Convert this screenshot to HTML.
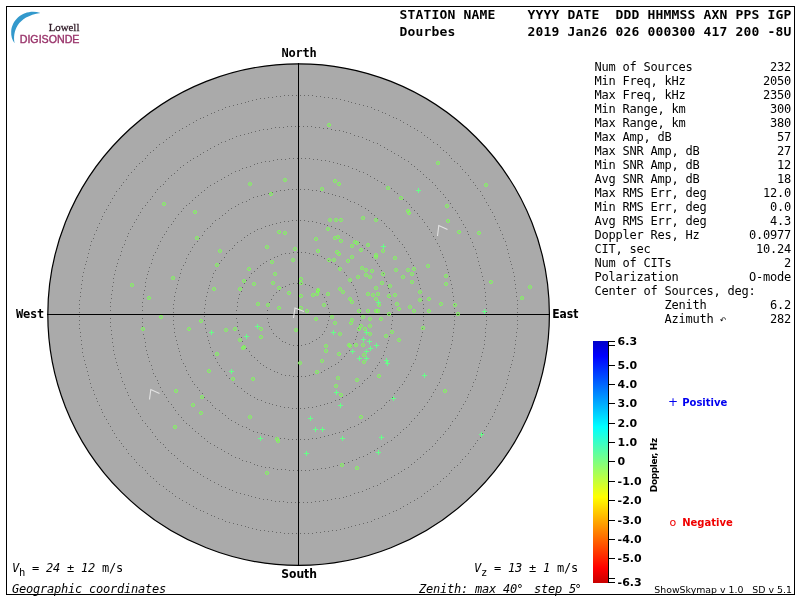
<!DOCTYPE html>
<html><head><meta charset="utf-8"><title>Skymap</title>
<style>
html,body{margin:0;padding:0;background:#fff;}
body{width:800px;height:600px;overflow:hidden;position:relative;}
svg{position:absolute;left:0;top:0;display:block;will-change:transform;}
text{white-space:pre;}
.mb{font-family:"DejaVu Sans Mono","Liberation Mono",monospace;font-weight:bold;}
.m{font-family:"DejaVu Sans Mono","Liberation Mono",monospace;}
.mi{font-family:"DejaVu Sans Mono","Liberation Mono",monospace;font-style:italic;}
.sb{font-family:"DejaVu Sans","Liberation Sans",sans-serif;font-weight:bold;}
.cb{font-family:"DejaVu Sans Condensed","DejaVu Sans","Liberation Sans",sans-serif;font-weight:bold;font-stretch:condensed;}
.s{font-family:"DejaVu Sans","Liberation Sans",sans-serif;}
</style></head><body>
<svg width="800" height="600" viewBox="0 0 800 600">
<defs>
<linearGradient id="cb" x1="0" y1="0" x2="0" y2="1">
<stop offset="0" stop-color="#0000c8"/>
<stop offset="0.062" stop-color="#0000ff"/>
<stop offset="0.355" stop-color="#00ffff"/>
<stop offset="0.645" stop-color="#ffff00"/>
<stop offset="0.938" stop-color="#ff0000"/>
<stop offset="1" stop-color="#c80000"/>
</linearGradient>
</defs>
<rect x="0" y="0" width="800" height="600" fill="#fff"/>
<rect x="6.5" y="6.5" width="788" height="588" fill="none" stroke="#000" stroke-width="1" shape-rendering="crispEdges"/>
<g id="logo">
<path d="M40.5 13 C26 8.5 12.2 18 11.2 31.5 C10.9 36 12.2 40.2 14.6 43.2 C12.6 32 16.5 16.5 40.5 13 Z" fill="#3399cc"/>
<text x="48.7" y="30.6" font-family="'Liberation Serif','DejaVu Serif',serif" font-size="11.4" fill="#35202c" stroke="#35202c" stroke-width="0.3" textLength="30.7" lengthAdjust="spacingAndGlyphs">Lowell</text>
<text x="19.7" y="43.1" font-family="'Liberation Sans','DejaVu Sans',sans-serif" font-size="10" fill="#99336a" stroke="#99336a" stroke-width="0.35" textLength="59.8" lengthAdjust="spacingAndGlyphs">DIGISONDE</text>
</g>
<circle cx="298.6" cy="314.6" r="250.8" fill="#aaaaaa" stroke="#000" stroke-width="1.2"/>
<path fill="#686868" shape-rendering="crispEdges" d="M329 316h1v1h-1zM328 320h1v1h-1zM327 324h1v1h-1zM326 327h1v1h-1zM324 331h1v1h-1zM322 334h1v1h-1zM319 337h1v1h-1zM316 339h1v1h-1zM312 341h1v1h-1zM309 343h1v1h-1zM305 344h1v1h-1zM301 345h1v1h-1zM297 345h1v1h-1zM293 345h1v1h-1zM289 344h1v1h-1zM285 342h1v1h-1zM282 341h1v1h-1zM279 338h1v1h-1zM276 336h1v1h-1zM273 333h1v1h-1zM271 329h1v1h-1zM269 326h1v1h-1zM268 322h1v1h-1zM267 318h1v1h-1zM267 314h1v1h-1zM267 310h1v1h-1zM268 306h1v1h-1zM269 302h1v1h-1zM271 299h1v1h-1zM273 295h1v1h-1zM276 292h1v1h-1zM279 290h1v1h-1zM282 287h1v1h-1zM285 286h1v1h-1zM289 284h1v1h-1zM293 283h1v1h-1zM297 283h1v1h-1zM301 283h1v1h-1zM305 284h1v1h-1zM309 285h1v1h-1zM312 287h1v1h-1zM316 289h1v1h-1zM319 291h1v1h-1zM322 294h1v1h-1zM324 297h1v1h-1zM326 301h1v1h-1zM327 304h1v1h-1zM328 308h1v1h-1zM329 312h1v1h-1z"/>
<path fill="#686868" shape-rendering="crispEdges" d="M360 316h1v1h-1zM360 320h1v1h-1zM359 324h1v1h-1zM358 328h1v1h-1zM357 332h1v1h-1zM356 336h1v1h-1zM355 339h1v1h-1zM353 343h1v1h-1zM351 346h1v1h-1zM349 350h1v1h-1zM346 353h1v1h-1zM344 356h1v1h-1zM341 359h1v1h-1zM338 362h1v1h-1zM335 364h1v1h-1zM331 366h1v1h-1zM328 368h1v1h-1zM324 370h1v1h-1zM321 372h1v1h-1zM317 373h1v1h-1zM313 374h1v1h-1zM309 375h1v1h-1zM305 376h1v1h-1zM301 376h1v1h-1zM297 376h1v1h-1zM293 376h1v1h-1zM289 375h1v1h-1zM285 375h1v1h-1zM281 374h1v1h-1zM277 372h1v1h-1zM274 371h1v1h-1zM270 369h1v1h-1zM266 367h1v1h-1zM263 365h1v1h-1zM260 363h1v1h-1zM257 360h1v1h-1zM254 357h1v1h-1zM251 355h1v1h-1zM249 351h1v1h-1zM246 348h1v1h-1zM244 345h1v1h-1zM242 341h1v1h-1zM241 337h1v1h-1zM239 334h1v1h-1zM238 330h1v1h-1zM237 326h1v1h-1zM237 322h1v1h-1zM236 318h1v1h-1zM236 314h1v1h-1zM236 310h1v1h-1zM237 306h1v1h-1zM237 302h1v1h-1zM238 298h1v1h-1zM239 294h1v1h-1zM241 291h1v1h-1zM242 287h1v1h-1zM244 283h1v1h-1zM246 280h1v1h-1zM249 277h1v1h-1zM251 273h1v1h-1zM254 271h1v1h-1zM257 268h1v1h-1zM260 265h1v1h-1zM263 263h1v1h-1zM266 261h1v1h-1zM270 259h1v1h-1zM274 257h1v1h-1zM277 256h1v1h-1zM281 254h1v1h-1zM285 253h1v1h-1zM289 253h1v1h-1zM293 252h1v1h-1zM297 252h1v1h-1zM301 252h1v1h-1zM305 252h1v1h-1zM309 253h1v1h-1zM313 254h1v1h-1zM317 255h1v1h-1zM321 256h1v1h-1zM324 258h1v1h-1zM328 260h1v1h-1zM331 262h1v1h-1zM335 264h1v1h-1zM338 266h1v1h-1zM341 269h1v1h-1zM344 272h1v1h-1zM346 275h1v1h-1zM349 278h1v1h-1zM351 282h1v1h-1zM353 285h1v1h-1zM355 289h1v1h-1zM356 292h1v1h-1zM357 296h1v1h-1zM358 300h1v1h-1zM359 304h1v1h-1zM360 308h1v1h-1zM360 312h1v1h-1z"/>
<path fill="#686868" shape-rendering="crispEdges" d="M392 316h1v1h-1zM392 320h1v1h-1zM391 324h1v1h-1zM391 328h1v1h-1zM390 332h1v1h-1zM389 336h1v1h-1zM388 340h1v1h-1zM387 343h1v1h-1zM386 347h1v1h-1zM384 351h1v1h-1zM383 355h1v1h-1zM381 358h1v1h-1zM379 362h1v1h-1zM377 365h1v1h-1zM375 368h1v1h-1zM372 371h1v1h-1zM370 375h1v1h-1zM367 378h1v1h-1zM364 380h1v1h-1zM362 383h1v1h-1zM359 386h1v1h-1zM355 388h1v1h-1zM352 391h1v1h-1zM349 393h1v1h-1zM346 395h1v1h-1zM342 397h1v1h-1zM339 399h1v1h-1zM335 400h1v1h-1zM331 402h1v1h-1zM327 403h1v1h-1zM324 404h1v1h-1zM320 405h1v1h-1zM316 406h1v1h-1zM312 407h1v1h-1zM308 407h1v1h-1zM304 408h1v1h-1zM300 408h1v1h-1zM296 408h1v1h-1zM292 408h1v1h-1zM288 407h1v1h-1zM284 407h1v1h-1zM280 406h1v1h-1zM276 405h1v1h-1zM272 404h1v1h-1zM269 403h1v1h-1zM265 402h1v1h-1zM261 400h1v1h-1zM257 399h1v1h-1zM254 397h1v1h-1zM250 395h1v1h-1zM247 393h1v1h-1zM244 391h1v1h-1zM241 388h1v1h-1zM237 386h1v1h-1zM234 383h1v1h-1zM232 380h1v1h-1zM229 378h1v1h-1zM226 375h1v1h-1zM224 371h1v1h-1zM221 368h1v1h-1zM219 365h1v1h-1zM217 362h1v1h-1zM215 358h1v1h-1zM213 355h1v1h-1zM212 351h1v1h-1zM210 347h1v1h-1zM209 343h1v1h-1zM208 340h1v1h-1zM207 336h1v1h-1zM206 332h1v1h-1zM205 328h1v1h-1zM205 324h1v1h-1zM204 320h1v1h-1zM204 316h1v1h-1zM204 312h1v1h-1zM204 308h1v1h-1zM205 304h1v1h-1zM205 300h1v1h-1zM206 296h1v1h-1zM207 292h1v1h-1zM208 288h1v1h-1zM209 285h1v1h-1zM210 281h1v1h-1zM212 277h1v1h-1zM213 273h1v1h-1zM215 270h1v1h-1zM217 266h1v1h-1zM219 263h1v1h-1zM221 260h1v1h-1zM224 257h1v1h-1zM226 253h1v1h-1zM229 250h1v1h-1zM232 248h1v1h-1zM234 245h1v1h-1zM237 242h1v1h-1zM241 240h1v1h-1zM244 237h1v1h-1zM247 235h1v1h-1zM250 233h1v1h-1zM254 231h1v1h-1zM257 229h1v1h-1zM261 228h1v1h-1zM265 226h1v1h-1zM269 225h1v1h-1zM272 224h1v1h-1zM276 223h1v1h-1zM280 222h1v1h-1zM284 221h1v1h-1zM288 221h1v1h-1zM292 220h1v1h-1zM296 220h1v1h-1zM300 220h1v1h-1zM304 220h1v1h-1zM308 221h1v1h-1zM312 221h1v1h-1zM316 222h1v1h-1zM320 223h1v1h-1zM324 224h1v1h-1zM327 225h1v1h-1zM331 226h1v1h-1zM335 228h1v1h-1zM339 229h1v1h-1zM342 231h1v1h-1zM346 233h1v1h-1zM349 235h1v1h-1zM352 237h1v1h-1zM355 240h1v1h-1zM359 242h1v1h-1zM362 245h1v1h-1zM364 248h1v1h-1zM367 250h1v1h-1zM370 253h1v1h-1zM372 257h1v1h-1zM375 260h1v1h-1zM377 263h1v1h-1zM379 266h1v1h-1zM381 270h1v1h-1zM383 273h1v1h-1zM384 277h1v1h-1zM386 281h1v1h-1zM387 285h1v1h-1zM388 288h1v1h-1zM389 292h1v1h-1zM390 296h1v1h-1zM391 300h1v1h-1zM391 304h1v1h-1zM392 308h1v1h-1zM392 312h1v1h-1z"/>
<path fill="#686868" shape-rendering="crispEdges" d="M423 316h1v1h-1zM423 320h1v1h-1zM423 324h1v1h-1zM422 328h1v1h-1zM422 332h1v1h-1zM421 336h1v1h-1zM420 340h1v1h-1zM419 344h1v1h-1zM418 348h1v1h-1zM417 351h1v1h-1zM416 355h1v1h-1zM415 359h1v1h-1zM413 363h1v1h-1zM411 366h1v1h-1zM410 370h1v1h-1zM408 374h1v1h-1zM406 377h1v1h-1zM404 381h1v1h-1zM402 384h1v1h-1zM399 387h1v1h-1zM397 390h1v1h-1zM394 393h1v1h-1zM392 397h1v1h-1zM389 400h1v1h-1zM386 402h1v1h-1zM384 405h1v1h-1zM381 408h1v1h-1zM377 410h1v1h-1zM374 413h1v1h-1zM371 415h1v1h-1zM368 418h1v1h-1zM365 420h1v1h-1zM361 422h1v1h-1zM358 424h1v1h-1zM354 426h1v1h-1zM350 427h1v1h-1zM347 429h1v1h-1zM343 431h1v1h-1zM339 432h1v1h-1zM335 433h1v1h-1zM332 434h1v1h-1zM328 435h1v1h-1zM324 436h1v1h-1zM320 437h1v1h-1zM316 438h1v1h-1zM312 438h1v1h-1zM308 439h1v1h-1zM304 439h1v1h-1zM300 439h1v1h-1zM296 439h1v1h-1zM292 439h1v1h-1zM288 439h1v1h-1zM284 438h1v1h-1zM280 438h1v1h-1zM276 437h1v1h-1zM272 436h1v1h-1zM268 435h1v1h-1zM264 434h1v1h-1zM261 433h1v1h-1zM257 432h1v1h-1zM253 431h1v1h-1zM249 429h1v1h-1zM246 427h1v1h-1zM242 426h1v1h-1zM238 424h1v1h-1zM235 422h1v1h-1zM231 420h1v1h-1zM228 418h1v1h-1zM225 415h1v1h-1zM222 413h1v1h-1zM219 410h1v1h-1zM215 408h1v1h-1zM212 405h1v1h-1zM210 402h1v1h-1zM207 400h1v1h-1zM204 397h1v1h-1zM202 393h1v1h-1zM199 390h1v1h-1zM197 387h1v1h-1zM194 384h1v1h-1zM192 381h1v1h-1zM190 377h1v1h-1zM188 374h1v1h-1zM186 370h1v1h-1zM185 366h1v1h-1zM183 363h1v1h-1zM181 359h1v1h-1zM180 355h1v1h-1zM179 351h1v1h-1zM178 348h1v1h-1zM177 344h1v1h-1zM176 340h1v1h-1zM175 336h1v1h-1zM174 332h1v1h-1zM174 328h1v1h-1zM173 324h1v1h-1zM173 320h1v1h-1zM173 316h1v1h-1zM173 312h1v1h-1zM173 308h1v1h-1zM173 304h1v1h-1zM174 300h1v1h-1zM174 296h1v1h-1zM175 292h1v1h-1zM176 288h1v1h-1zM177 284h1v1h-1zM178 280h1v1h-1zM179 277h1v1h-1zM180 273h1v1h-1zM181 269h1v1h-1zM183 265h1v1h-1zM185 262h1v1h-1zM186 258h1v1h-1zM188 254h1v1h-1zM190 251h1v1h-1zM192 247h1v1h-1zM194 244h1v1h-1zM197 241h1v1h-1zM199 238h1v1h-1zM202 235h1v1h-1zM204 231h1v1h-1zM207 228h1v1h-1zM210 226h1v1h-1zM212 223h1v1h-1zM215 220h1v1h-1zM219 218h1v1h-1zM222 215h1v1h-1zM225 213h1v1h-1zM228 210h1v1h-1zM231 208h1v1h-1zM235 206h1v1h-1zM238 204h1v1h-1zM242 202h1v1h-1zM246 201h1v1h-1zM249 199h1v1h-1zM253 197h1v1h-1zM257 196h1v1h-1zM261 195h1v1h-1zM264 194h1v1h-1zM268 193h1v1h-1zM272 192h1v1h-1zM276 191h1v1h-1zM280 190h1v1h-1zM284 190h1v1h-1zM288 189h1v1h-1zM292 189h1v1h-1zM296 189h1v1h-1zM300 189h1v1h-1zM304 189h1v1h-1zM308 189h1v1h-1zM312 190h1v1h-1zM316 190h1v1h-1zM320 191h1v1h-1zM324 192h1v1h-1zM328 193h1v1h-1zM332 194h1v1h-1zM335 195h1v1h-1zM339 196h1v1h-1zM343 197h1v1h-1zM347 199h1v1h-1zM350 201h1v1h-1zM354 202h1v1h-1zM358 204h1v1h-1zM361 206h1v1h-1zM365 208h1v1h-1zM368 210h1v1h-1zM371 213h1v1h-1zM374 215h1v1h-1zM377 218h1v1h-1zM381 220h1v1h-1zM384 223h1v1h-1zM386 226h1v1h-1zM389 228h1v1h-1zM392 231h1v1h-1zM394 235h1v1h-1zM397 238h1v1h-1zM399 241h1v1h-1zM402 244h1v1h-1zM404 247h1v1h-1zM406 251h1v1h-1zM408 254h1v1h-1zM410 258h1v1h-1zM411 262h1v1h-1zM413 265h1v1h-1zM415 269h1v1h-1zM416 273h1v1h-1zM417 277h1v1h-1zM418 280h1v1h-1zM419 284h1v1h-1zM420 288h1v1h-1zM421 292h1v1h-1zM422 296h1v1h-1zM422 300h1v1h-1zM423 304h1v1h-1zM423 308h1v1h-1zM423 312h1v1h-1z"/>
<path fill="#686868" shape-rendering="crispEdges" d="M454 316h1v1h-1zM454 320h1v1h-1zM454 324h1v1h-1zM453 328h1v1h-1zM453 332h1v1h-1zM452 336h1v1h-1zM452 340h1v1h-1zM451 344h1v1h-1zM450 348h1v1h-1zM449 352h1v1h-1zM448 356h1v1h-1zM447 359h1v1h-1zM446 363h1v1h-1zM445 367h1v1h-1zM443 371h1v1h-1zM442 374h1v1h-1zM440 378h1v1h-1zM439 382h1v1h-1zM437 385h1v1h-1zM435 389h1v1h-1zM433 392h1v1h-1zM431 396h1v1h-1zM429 399h1v1h-1zM427 402h1v1h-1zM424 406h1v1h-1zM422 409h1v1h-1zM419 412h1v1h-1zM417 415h1v1h-1zM414 418h1v1h-1zM411 421h1v1h-1zM409 424h1v1h-1zM406 427h1v1h-1zM403 429h1v1h-1zM400 432h1v1h-1zM397 435h1v1h-1zM394 437h1v1h-1zM391 440h1v1h-1zM387 442h1v1h-1zM384 444h1v1h-1zM381 446h1v1h-1zM377 448h1v1h-1zM374 450h1v1h-1zM370 452h1v1h-1zM367 454h1v1h-1zM363 456h1v1h-1zM359 457h1v1h-1zM356 459h1v1h-1zM352 460h1v1h-1zM348 462h1v1h-1zM344 463h1v1h-1zM340 464h1v1h-1zM337 465h1v1h-1zM333 466h1v1h-1zM329 467h1v1h-1zM325 468h1v1h-1zM321 468h1v1h-1zM317 469h1v1h-1zM313 469h1v1h-1zM309 470h1v1h-1zM305 470h1v1h-1zM301 470h1v1h-1zM297 470h1v1h-1zM293 470h1v1h-1zM289 470h1v1h-1zM285 469h1v1h-1zM281 469h1v1h-1zM277 469h1v1h-1zM273 468h1v1h-1zM269 467h1v1h-1zM265 467h1v1h-1zM261 466h1v1h-1zM257 465h1v1h-1zM254 464h1v1h-1zM250 462h1v1h-1zM246 461h1v1h-1zM242 460h1v1h-1zM239 458h1v1h-1zM235 457h1v1h-1zM231 455h1v1h-1zM228 453h1v1h-1zM224 451h1v1h-1zM221 449h1v1h-1zM217 447h1v1h-1zM214 445h1v1h-1zM210 443h1v1h-1zM207 441h1v1h-1zM204 438h1v1h-1zM201 436h1v1h-1zM198 433h1v1h-1zM195 431h1v1h-1zM192 428h1v1h-1zM189 425h1v1h-1zM186 423h1v1h-1zM183 420h1v1h-1zM181 417h1v1h-1zM178 414h1v1h-1zM175 410h1v1h-1zM173 407h1v1h-1zM171 404h1v1h-1zM168 401h1v1h-1zM166 397h1v1h-1zM164 394h1v1h-1zM162 391h1v1h-1zM160 387h1v1h-1zM158 383h1v1h-1zM157 380h1v1h-1zM155 376h1v1h-1zM153 373h1v1h-1zM152 369h1v1h-1zM151 365h1v1h-1zM149 361h1v1h-1zM148 357h1v1h-1zM147 354h1v1h-1zM146 350h1v1h-1zM145 346h1v1h-1zM145 342h1v1h-1zM144 338h1v1h-1zM143 334h1v1h-1zM143 330h1v1h-1zM142 326h1v1h-1zM142 322h1v1h-1zM142 318h1v1h-1zM142 314h1v1h-1zM142 310h1v1h-1zM142 306h1v1h-1zM142 302h1v1h-1zM143 298h1v1h-1zM143 294h1v1h-1zM144 290h1v1h-1zM145 286h1v1h-1zM145 282h1v1h-1zM146 278h1v1h-1zM147 274h1v1h-1zM148 271h1v1h-1zM149 267h1v1h-1zM151 263h1v1h-1zM152 259h1v1h-1zM153 255h1v1h-1zM155 252h1v1h-1zM157 248h1v1h-1zM158 245h1v1h-1zM160 241h1v1h-1zM162 237h1v1h-1zM164 234h1v1h-1zM166 231h1v1h-1zM168 227h1v1h-1zM171 224h1v1h-1zM173 221h1v1h-1zM175 218h1v1h-1zM178 214h1v1h-1zM181 211h1v1h-1zM183 208h1v1h-1zM186 205h1v1h-1zM189 203h1v1h-1zM192 200h1v1h-1zM195 197h1v1h-1zM198 195h1v1h-1zM201 192h1v1h-1zM204 190h1v1h-1zM207 187h1v1h-1zM210 185h1v1h-1zM214 183h1v1h-1zM217 181h1v1h-1zM221 179h1v1h-1zM224 177h1v1h-1zM228 175h1v1h-1zM231 173h1v1h-1zM235 171h1v1h-1zM239 170h1v1h-1zM242 168h1v1h-1zM246 167h1v1h-1zM250 166h1v1h-1zM254 164h1v1h-1zM257 163h1v1h-1zM261 162h1v1h-1zM265 161h1v1h-1zM269 161h1v1h-1zM273 160h1v1h-1zM277 159h1v1h-1zM281 159h1v1h-1zM285 159h1v1h-1zM289 158h1v1h-1zM293 158h1v1h-1zM297 158h1v1h-1zM301 158h1v1h-1zM305 158h1v1h-1zM309 158h1v1h-1zM313 159h1v1h-1zM317 159h1v1h-1zM321 160h1v1h-1zM325 160h1v1h-1zM329 161h1v1h-1zM333 162h1v1h-1zM337 163h1v1h-1zM340 164h1v1h-1zM344 165h1v1h-1zM348 166h1v1h-1zM352 168h1v1h-1zM356 169h1v1h-1zM359 171h1v1h-1zM363 172h1v1h-1zM367 174h1v1h-1zM370 176h1v1h-1zM374 178h1v1h-1zM377 180h1v1h-1zM381 182h1v1h-1zM384 184h1v1h-1zM387 186h1v1h-1zM391 188h1v1h-1zM394 191h1v1h-1zM397 193h1v1h-1zM400 196h1v1h-1zM403 199h1v1h-1zM406 201h1v1h-1zM409 204h1v1h-1zM411 207h1v1h-1zM414 210h1v1h-1zM417 213h1v1h-1zM419 216h1v1h-1zM422 219h1v1h-1zM424 222h1v1h-1zM427 226h1v1h-1zM429 229h1v1h-1zM431 232h1v1h-1zM433 236h1v1h-1zM435 239h1v1h-1zM437 243h1v1h-1zM439 246h1v1h-1zM440 250h1v1h-1zM442 254h1v1h-1zM443 257h1v1h-1zM445 261h1v1h-1zM446 265h1v1h-1zM447 269h1v1h-1zM448 272h1v1h-1zM449 276h1v1h-1zM450 280h1v1h-1zM451 284h1v1h-1zM452 288h1v1h-1zM452 292h1v1h-1zM453 296h1v1h-1zM453 300h1v1h-1zM454 304h1v1h-1zM454 308h1v1h-1zM454 312h1v1h-1z"/>
<path fill="#686868" shape-rendering="crispEdges" d="M486 316h1v1h-1zM486 320h1v1h-1zM486 324h1v1h-1zM485 328h1v1h-1zM485 332h1v1h-1zM485 336h1v1h-1zM484 340h1v1h-1zM484 344h1v1h-1zM483 348h1v1h-1zM482 352h1v1h-1zM481 356h1v1h-1zM480 360h1v1h-1zM479 363h1v1h-1zM478 367h1v1h-1zM477 371h1v1h-1zM476 375h1v1h-1zM475 379h1v1h-1zM473 382h1v1h-1zM472 386h1v1h-1zM470 390h1v1h-1zM468 394h1v1h-1zM467 397h1v1h-1zM465 401h1v1h-1zM463 404h1v1h-1zM461 408h1v1h-1zM459 411h1v1h-1zM457 415h1v1h-1zM455 418h1v1h-1zM452 421h1v1h-1zM450 425h1v1h-1zM448 428h1v1h-1zM445 431h1v1h-1zM443 434h1v1h-1zM440 437h1v1h-1zM437 440h1v1h-1zM435 443h1v1h-1zM432 446h1v1h-1zM429 449h1v1h-1zM426 451h1v1h-1zM423 454h1v1h-1zM420 457h1v1h-1zM417 459h1v1h-1zM414 462h1v1h-1zM411 464h1v1h-1zM408 467h1v1h-1zM404 469h1v1h-1zM401 471h1v1h-1zM398 473h1v1h-1zM394 475h1v1h-1zM391 477h1v1h-1zM387 479h1v1h-1zM384 481h1v1h-1zM380 483h1v1h-1zM377 485h1v1h-1zM373 486h1v1h-1zM369 488h1v1h-1zM366 489h1v1h-1zM362 491h1v1h-1zM358 492h1v1h-1zM354 493h1v1h-1zM350 495h1v1h-1zM346 496h1v1h-1zM343 497h1v1h-1zM339 498h1v1h-1zM335 498h1v1h-1zM331 499h1v1h-1zM327 500h1v1h-1zM323 500h1v1h-1zM319 501h1v1h-1zM315 501h1v1h-1zM311 502h1v1h-1zM307 502h1v1h-1zM303 502h1v1h-1zM299 502h1v1h-1zM295 502h1v1h-1zM291 502h1v1h-1zM287 502h1v1h-1zM283 501h1v1h-1zM279 501h1v1h-1zM275 501h1v1h-1zM271 500h1v1h-1zM267 499h1v1h-1zM263 499h1v1h-1zM259 498h1v1h-1zM255 497h1v1h-1zM251 496h1v1h-1zM248 495h1v1h-1zM244 494h1v1h-1zM240 493h1v1h-1zM236 492h1v1h-1zM232 490h1v1h-1zM229 489h1v1h-1zM225 487h1v1h-1zM221 486h1v1h-1zM218 484h1v1h-1zM214 482h1v1h-1zM210 480h1v1h-1zM207 478h1v1h-1zM203 476h1v1h-1zM200 474h1v1h-1zM197 472h1v1h-1zM193 470h1v1h-1zM190 468h1v1h-1zM187 466h1v1h-1zM183 463h1v1h-1zM180 461h1v1h-1zM177 458h1v1h-1zM174 455h1v1h-1zM171 453h1v1h-1zM168 450h1v1h-1zM165 447h1v1h-1zM163 444h1v1h-1zM160 442h1v1h-1zM157 439h1v1h-1zM155 436h1v1h-1zM152 432h1v1h-1zM150 429h1v1h-1zM147 426h1v1h-1zM145 423h1v1h-1zM142 420h1v1h-1zM140 416h1v1h-1zM138 413h1v1h-1zM136 409h1v1h-1zM134 406h1v1h-1zM132 402h1v1h-1zM130 399h1v1h-1zM128 395h1v1h-1zM127 392h1v1h-1zM125 388h1v1h-1zM124 384h1v1h-1zM122 381h1v1h-1zM121 377h1v1h-1zM120 373h1v1h-1zM118 369h1v1h-1zM117 365h1v1h-1zM116 362h1v1h-1zM115 358h1v1h-1zM114 354h1v1h-1zM113 350h1v1h-1zM113 346h1v1h-1zM112 342h1v1h-1zM112 338h1v1h-1zM111 334h1v1h-1zM111 330h1v1h-1zM110 326h1v1h-1zM110 322h1v1h-1zM110 318h1v1h-1zM110 314h1v1h-1zM110 310h1v1h-1zM110 306h1v1h-1zM110 302h1v1h-1zM111 298h1v1h-1zM111 294h1v1h-1zM112 290h1v1h-1zM112 286h1v1h-1zM113 282h1v1h-1zM113 278h1v1h-1zM114 274h1v1h-1zM115 270h1v1h-1zM116 266h1v1h-1zM117 263h1v1h-1zM118 259h1v1h-1zM120 255h1v1h-1zM121 251h1v1h-1zM122 247h1v1h-1zM124 244h1v1h-1zM125 240h1v1h-1zM127 236h1v1h-1zM128 233h1v1h-1zM130 229h1v1h-1zM132 226h1v1h-1zM134 222h1v1h-1zM136 219h1v1h-1zM138 215h1v1h-1zM140 212h1v1h-1zM142 208h1v1h-1zM145 205h1v1h-1zM147 202h1v1h-1zM150 199h1v1h-1zM152 196h1v1h-1zM155 192h1v1h-1zM157 189h1v1h-1zM160 186h1v1h-1zM163 184h1v1h-1zM165 181h1v1h-1zM168 178h1v1h-1zM171 175h1v1h-1zM174 173h1v1h-1zM177 170h1v1h-1zM180 167h1v1h-1zM183 165h1v1h-1zM187 162h1v1h-1zM190 160h1v1h-1zM193 158h1v1h-1zM197 156h1v1h-1zM200 154h1v1h-1zM203 152h1v1h-1zM207 150h1v1h-1zM210 148h1v1h-1zM214 146h1v1h-1zM218 144h1v1h-1zM221 142h1v1h-1zM225 141h1v1h-1zM229 139h1v1h-1zM232 138h1v1h-1zM236 136h1v1h-1zM240 135h1v1h-1zM244 134h1v1h-1zM248 133h1v1h-1zM251 132h1v1h-1zM255 131h1v1h-1zM259 130h1v1h-1zM263 129h1v1h-1zM267 129h1v1h-1zM271 128h1v1h-1zM275 127h1v1h-1zM279 127h1v1h-1zM283 127h1v1h-1zM287 126h1v1h-1zM291 126h1v1h-1zM295 126h1v1h-1zM299 126h1v1h-1zM303 126h1v1h-1zM307 126h1v1h-1zM311 126h1v1h-1zM315 127h1v1h-1zM319 127h1v1h-1zM323 128h1v1h-1zM327 128h1v1h-1zM331 129h1v1h-1zM335 130h1v1h-1zM339 130h1v1h-1zM343 131h1v1h-1zM346 132h1v1h-1zM350 133h1v1h-1zM354 135h1v1h-1zM358 136h1v1h-1zM362 137h1v1h-1zM366 139h1v1h-1zM369 140h1v1h-1zM373 142h1v1h-1zM377 143h1v1h-1zM380 145h1v1h-1zM384 147h1v1h-1zM387 149h1v1h-1zM391 151h1v1h-1zM394 153h1v1h-1zM398 155h1v1h-1zM401 157h1v1h-1zM404 159h1v1h-1zM408 161h1v1h-1zM411 164h1v1h-1zM414 166h1v1h-1zM417 169h1v1h-1zM420 171h1v1h-1zM423 174h1v1h-1zM426 177h1v1h-1zM429 179h1v1h-1zM432 182h1v1h-1zM435 185h1v1h-1zM437 188h1v1h-1zM440 191h1v1h-1zM443 194h1v1h-1zM445 197h1v1h-1zM448 200h1v1h-1zM450 203h1v1h-1zM452 207h1v1h-1zM455 210h1v1h-1zM457 213h1v1h-1zM459 217h1v1h-1zM461 220h1v1h-1zM463 224h1v1h-1zM465 227h1v1h-1zM467 231h1v1h-1zM468 234h1v1h-1zM470 238h1v1h-1zM472 242h1v1h-1zM473 246h1v1h-1zM475 249h1v1h-1zM476 253h1v1h-1zM477 257h1v1h-1zM478 261h1v1h-1zM479 265h1v1h-1zM480 268h1v1h-1zM481 272h1v1h-1zM482 276h1v1h-1zM483 280h1v1h-1zM484 284h1v1h-1zM484 288h1v1h-1zM485 292h1v1h-1zM485 296h1v1h-1zM485 300h1v1h-1zM486 304h1v1h-1zM486 308h1v1h-1zM486 312h1v1h-1z"/>
<path fill="#686868" shape-rendering="crispEdges" d="M517 316h1v1h-1zM517 320h1v1h-1zM517 324h1v1h-1zM517 328h1v1h-1zM516 332h1v1h-1zM516 336h1v1h-1zM515 340h1v1h-1zM515 344h1v1h-1zM514 348h1v1h-1zM514 352h1v1h-1zM513 356h1v1h-1zM512 360h1v1h-1zM511 364h1v1h-1zM510 367h1v1h-1zM509 371h1v1h-1zM508 375h1v1h-1zM507 379h1v1h-1zM506 383h1v1h-1zM505 387h1v1h-1zM503 390h1v1h-1zM502 394h1v1h-1zM500 398h1v1h-1zM499 401h1v1h-1zM497 405h1v1h-1zM495 409h1v1h-1zM494 412h1v1h-1zM492 416h1v1h-1zM490 419h1v1h-1zM488 423h1v1h-1zM486 426h1v1h-1zM484 430h1v1h-1zM482 433h1v1h-1zM480 437h1v1h-1zM477 440h1v1h-1zM475 443h1v1h-1zM473 446h1v1h-1zM470 449h1v1h-1zM468 453h1v1h-1zM465 456h1v1h-1zM462 459h1v1h-1zM460 462h1v1h-1zM457 465h1v1h-1zM454 467h1v1h-1zM451 470h1v1h-1zM449 473h1v1h-1zM446 476h1v1h-1zM443 478h1v1h-1zM440 481h1v1h-1zM437 484h1v1h-1zM433 486h1v1h-1zM430 489h1v1h-1zM427 491h1v1h-1zM424 493h1v1h-1zM421 496h1v1h-1zM417 498h1v1h-1zM414 500h1v1h-1zM410 502h1v1h-1zM407 504h1v1h-1zM403 506h1v1h-1zM400 508h1v1h-1zM396 510h1v1h-1zM393 511h1v1h-1zM389 513h1v1h-1zM385 515h1v1h-1zM382 516h1v1h-1zM378 518h1v1h-1zM374 519h1v1h-1zM371 521h1v1h-1zM367 522h1v1h-1zM363 523h1v1h-1zM359 524h1v1h-1zM355 525h1v1h-1zM351 526h1v1h-1zM348 527h1v1h-1zM344 528h1v1h-1zM340 529h1v1h-1zM336 530h1v1h-1zM332 530h1v1h-1zM328 531h1v1h-1zM324 531h1v1h-1zM320 532h1v1h-1zM316 532h1v1h-1zM312 533h1v1h-1zM308 533h1v1h-1zM304 533h1v1h-1zM300 533h1v1h-1zM296 533h1v1h-1zM292 533h1v1h-1zM288 533h1v1h-1zM284 533h1v1h-1zM280 532h1v1h-1zM276 532h1v1h-1zM272 531h1v1h-1zM268 531h1v1h-1zM264 530h1v1h-1zM260 530h1v1h-1zM256 529h1v1h-1zM252 528h1v1h-1zM248 527h1v1h-1zM245 526h1v1h-1zM241 525h1v1h-1zM237 524h1v1h-1zM233 523h1v1h-1zM229 522h1v1h-1zM225 521h1v1h-1zM222 519h1v1h-1zM218 518h1v1h-1zM214 516h1v1h-1zM211 515h1v1h-1zM207 513h1v1h-1zM203 511h1v1h-1zM200 510h1v1h-1zM196 508h1v1h-1zM193 506h1v1h-1zM189 504h1v1h-1zM186 502h1v1h-1zM182 500h1v1h-1zM179 498h1v1h-1zM175 496h1v1h-1zM172 493h1v1h-1zM169 491h1v1h-1zM166 489h1v1h-1zM163 486h1v1h-1zM159 484h1v1h-1zM156 481h1v1h-1zM153 478h1v1h-1zM150 476h1v1h-1zM147 473h1v1h-1zM145 470h1v1h-1zM142 467h1v1h-1zM139 465h1v1h-1zM136 462h1v1h-1zM134 459h1v1h-1zM131 456h1v1h-1zM128 453h1v1h-1zM126 449h1v1h-1zM123 446h1v1h-1zM121 443h1v1h-1zM119 440h1v1h-1zM116 437h1v1h-1zM114 433h1v1h-1zM112 430h1v1h-1zM110 426h1v1h-1zM108 423h1v1h-1zM106 419h1v1h-1zM104 416h1v1h-1zM102 412h1v1h-1zM101 409h1v1h-1zM99 405h1v1h-1zM97 401h1v1h-1zM96 398h1v1h-1zM94 394h1v1h-1zM93 390h1v1h-1zM91 387h1v1h-1zM90 383h1v1h-1zM89 379h1v1h-1zM88 375h1v1h-1zM87 371h1v1h-1zM86 367h1v1h-1zM85 364h1v1h-1zM84 360h1v1h-1zM83 356h1v1h-1zM82 352h1v1h-1zM82 348h1v1h-1zM81 344h1v1h-1zM81 340h1v1h-1zM80 336h1v1h-1zM80 332h1v1h-1zM79 328h1v1h-1zM79 324h1v1h-1zM79 320h1v1h-1zM79 316h1v1h-1zM79 312h1v1h-1zM79 308h1v1h-1zM79 304h1v1h-1zM79 300h1v1h-1zM80 296h1v1h-1zM80 292h1v1h-1zM81 288h1v1h-1zM81 284h1v1h-1zM82 280h1v1h-1zM82 276h1v1h-1zM83 272h1v1h-1zM84 268h1v1h-1zM85 264h1v1h-1zM86 261h1v1h-1zM87 257h1v1h-1zM88 253h1v1h-1zM89 249h1v1h-1zM90 245h1v1h-1zM91 241h1v1h-1zM93 238h1v1h-1zM94 234h1v1h-1zM96 230h1v1h-1zM97 227h1v1h-1zM99 223h1v1h-1zM101 219h1v1h-1zM102 216h1v1h-1zM104 212h1v1h-1zM106 209h1v1h-1zM108 205h1v1h-1zM110 202h1v1h-1zM112 198h1v1h-1zM114 195h1v1h-1zM116 191h1v1h-1zM119 188h1v1h-1zM121 185h1v1h-1zM123 182h1v1h-1zM126 179h1v1h-1zM128 175h1v1h-1zM131 172h1v1h-1zM134 169h1v1h-1zM136 166h1v1h-1zM139 163h1v1h-1zM142 161h1v1h-1zM145 158h1v1h-1zM147 155h1v1h-1zM150 152h1v1h-1zM153 150h1v1h-1zM156 147h1v1h-1zM159 144h1v1h-1zM163 142h1v1h-1zM166 139h1v1h-1zM169 137h1v1h-1zM172 135h1v1h-1zM175 132h1v1h-1zM179 130h1v1h-1zM182 128h1v1h-1zM186 126h1v1h-1zM189 124h1v1h-1zM193 122h1v1h-1zM196 120h1v1h-1zM200 118h1v1h-1zM203 117h1v1h-1zM207 115h1v1h-1zM211 113h1v1h-1zM214 112h1v1h-1zM218 110h1v1h-1zM222 109h1v1h-1zM225 107h1v1h-1zM229 106h1v1h-1zM233 105h1v1h-1zM237 104h1v1h-1zM241 103h1v1h-1zM245 102h1v1h-1zM248 101h1v1h-1zM252 100h1v1h-1zM256 99h1v1h-1zM260 98h1v1h-1zM264 98h1v1h-1zM268 97h1v1h-1zM272 97h1v1h-1zM276 96h1v1h-1zM280 96h1v1h-1zM284 95h1v1h-1zM288 95h1v1h-1zM292 95h1v1h-1zM296 95h1v1h-1zM300 95h1v1h-1zM304 95h1v1h-1zM308 95h1v1h-1zM312 95h1v1h-1zM316 96h1v1h-1zM320 96h1v1h-1zM324 97h1v1h-1zM328 97h1v1h-1zM332 98h1v1h-1zM336 98h1v1h-1zM340 99h1v1h-1zM344 100h1v1h-1zM348 101h1v1h-1zM351 102h1v1h-1zM355 103h1v1h-1zM359 104h1v1h-1zM363 105h1v1h-1zM367 106h1v1h-1zM371 107h1v1h-1zM374 109h1v1h-1zM378 110h1v1h-1zM382 112h1v1h-1zM385 113h1v1h-1zM389 115h1v1h-1zM393 117h1v1h-1zM396 118h1v1h-1zM400 120h1v1h-1zM403 122h1v1h-1zM407 124h1v1h-1zM410 126h1v1h-1zM414 128h1v1h-1zM417 130h1v1h-1zM421 132h1v1h-1zM424 135h1v1h-1zM427 137h1v1h-1zM430 139h1v1h-1zM433 142h1v1h-1zM437 144h1v1h-1zM440 147h1v1h-1zM443 150h1v1h-1zM446 152h1v1h-1zM449 155h1v1h-1zM451 158h1v1h-1zM454 161h1v1h-1zM457 163h1v1h-1zM460 166h1v1h-1zM462 169h1v1h-1zM465 172h1v1h-1zM468 175h1v1h-1zM470 179h1v1h-1zM473 182h1v1h-1zM475 185h1v1h-1zM477 188h1v1h-1zM480 191h1v1h-1zM482 195h1v1h-1zM484 198h1v1h-1zM486 202h1v1h-1zM488 205h1v1h-1zM490 209h1v1h-1zM492 212h1v1h-1zM494 216h1v1h-1zM495 219h1v1h-1zM497 223h1v1h-1zM499 227h1v1h-1zM500 230h1v1h-1zM502 234h1v1h-1zM503 238h1v1h-1zM505 241h1v1h-1zM506 245h1v1h-1zM507 249h1v1h-1zM508 253h1v1h-1zM509 257h1v1h-1zM510 261h1v1h-1zM511 264h1v1h-1zM512 268h1v1h-1zM513 272h1v1h-1zM514 276h1v1h-1zM514 280h1v1h-1zM515 284h1v1h-1zM515 288h1v1h-1zM516 292h1v1h-1zM516 296h1v1h-1zM517 300h1v1h-1zM517 304h1v1h-1zM517 308h1v1h-1zM517 312h1v1h-1z"/>
<rect x="298" y="63" width="1" height="503" fill="#000"/>
<rect x="47" y="314" width="503" height="1" fill="#000"/>
<g fill="none" stroke="#80ff5a" stroke-width="1"><circle cx="132" cy="285" r="1.5"/><circle cx="143" cy="329" r="1.5"/><circle cx="149" cy="298" r="1.5"/><circle cx="161" cy="317" r="1.5"/><circle cx="164" cy="204" r="1.5"/><circle cx="173" cy="278" r="1.5"/><circle cx="175" cy="427" r="1.5"/><circle cx="176" cy="391" r="1.5"/><circle cx="189" cy="329" r="1.5"/><circle cx="193" cy="405" r="1.5"/><circle cx="195" cy="212" r="1.5"/><circle cx="197" cy="238" r="1.5"/><circle cx="201" cy="321" r="1.5"/><circle cx="201" cy="413" r="1.5"/><circle cx="202" cy="397" r="1.5"/><circle cx="209" cy="371" r="1.5"/><circle cx="214" cy="289" r="1.5"/><circle cx="217" cy="265" r="1.5"/><circle cx="217" cy="354" r="1.5"/><circle cx="220" cy="251" r="1.5"/><circle cx="226" cy="330" r="1.5"/><circle cx="233" cy="379" r="1.5"/><circle cx="235" cy="329" r="1.5"/><circle cx="240" cy="289" r="1.5"/><circle cx="240" cy="340" r="1.5"/><circle cx="243" cy="348" r="1.5"/><circle cx="244" cy="281" r="1.5"/><circle cx="244" cy="347" r="1.5"/><circle cx="249" cy="269" r="1.5"/><circle cx="250" cy="184" r="1.5"/><circle cx="250" cy="417" r="1.5"/><circle cx="253" cy="379" r="1.5"/><circle cx="254" cy="284" r="1.5"/><circle cx="258" cy="304" r="1.5"/><circle cx="261" cy="329" r="1.5"/><circle cx="261" cy="337" r="1.5"/><circle cx="267" cy="247" r="1.5"/><circle cx="267" cy="473" r="1.5"/><circle cx="268" cy="305" r="1.5"/><circle cx="271" cy="194" r="1.5"/><circle cx="272" cy="262" r="1.5"/><circle cx="273" cy="283" r="1.5"/><circle cx="275" cy="274" r="1.5"/><circle cx="277" cy="439" r="1.5"/><circle cx="278" cy="441" r="1.5"/><circle cx="279" cy="232" r="1.5"/><circle cx="279" cy="288" r="1.5"/><circle cx="279" cy="308" r="1.5"/><circle cx="285" cy="180" r="1.5"/><circle cx="285" cy="233" r="1.5"/><circle cx="289" cy="293" r="1.5"/><circle cx="293" cy="260" r="1.5"/><circle cx="295" cy="249" r="1.5"/><circle cx="296" cy="330" r="1.5"/><circle cx="300" cy="363" r="1.5"/><circle cx="301" cy="279" r="1.5"/><circle cx="301" cy="283" r="1.5"/><circle cx="301" cy="296" r="1.5"/><circle cx="301" cy="308" r="1.5"/><circle cx="307" cy="311" r="1.5"/><circle cx="313" cy="295" r="1.5"/><circle cx="316" cy="239" r="1.5"/><circle cx="316" cy="319" r="1.5"/><circle cx="317" cy="294" r="1.5"/><circle cx="317" cy="372" r="1.5"/><circle cx="318" cy="251" r="1.5"/><circle cx="318" cy="290" r="1.5"/><circle cx="318" cy="291" r="1.5"/><circle cx="322" cy="189" r="1.5"/><circle cx="322" cy="361" r="1.5"/><circle cx="324" cy="305" r="1.5"/><circle cx="326" cy="346" r="1.5"/><circle cx="326" cy="351" r="1.5"/><circle cx="328" cy="229" r="1.5"/><circle cx="328" cy="294" r="1.5"/><circle cx="329" cy="125" r="1.5"/><circle cx="329" cy="260" r="1.5"/><circle cx="330" cy="220" r="1.5"/><circle cx="332" cy="317" r="1.5"/><circle cx="334" cy="260" r="1.5"/><circle cx="335" cy="181" r="1.5"/><circle cx="335" cy="238" r="1.5"/><circle cx="335" cy="323" r="1.5"/><circle cx="336" cy="220" r="1.5"/><circle cx="336" cy="386" r="1.5"/><circle cx="337" cy="252" r="1.5"/><circle cx="338" cy="237" r="1.5"/><circle cx="338" cy="378" r="1.5"/><circle cx="339" cy="184" r="1.5"/><circle cx="339" cy="254" r="1.5"/><circle cx="339" cy="354" r="1.5"/><circle cx="340" cy="269" r="1.5"/><circle cx="340" cy="289" r="1.5"/><circle cx="340" cy="334" r="1.5"/><circle cx="341" cy="220" r="1.5"/><circle cx="341" cy="241" r="1.5"/><circle cx="341" cy="395" r="1.5"/><circle cx="342" cy="465" r="1.5"/><circle cx="343" cy="292" r="1.5"/><circle cx="348" cy="261" r="1.5"/><circle cx="349" cy="345" r="1.5"/><circle cx="350" cy="280" r="1.5"/><circle cx="350" cy="299" r="1.5"/><circle cx="350" cy="346" r="1.5"/><circle cx="351" cy="323" r="1.5"/><circle cx="352" cy="246" r="1.5"/><circle cx="352" cy="257" r="1.5"/><circle cx="352" cy="302" r="1.5"/><circle cx="352" cy="320" r="1.5"/><circle cx="355" cy="242" r="1.5"/><circle cx="356" cy="345" r="1.5"/><circle cx="357" cy="243" r="1.5"/><circle cx="357" cy="380" r="1.5"/><circle cx="357" cy="468" r="1.5"/><circle cx="358" cy="277" r="1.5"/><circle cx="359" cy="311" r="1.5"/><circle cx="359" cy="329" r="1.5"/><circle cx="361" cy="250" r="1.5"/><circle cx="361" cy="326" r="1.5"/><circle cx="361" cy="417" r="1.5"/><circle cx="362" cy="268" r="1.5"/><circle cx="363" cy="218" r="1.5"/><circle cx="363" cy="317" r="1.5"/><circle cx="363" cy="345" r="1.5"/><circle cx="364" cy="355" r="1.5"/><circle cx="364" cy="362" r="1.5"/><circle cx="365" cy="329" r="1.5"/><circle cx="366" cy="270" r="1.5"/><circle cx="366" cy="275" r="1.5"/><circle cx="368" cy="245" r="1.5"/><circle cx="368" cy="294" r="1.5"/><circle cx="368" cy="311" r="1.5"/><circle cx="370" cy="277" r="1.5"/><circle cx="370" cy="319" r="1.5"/><circle cx="370" cy="326" r="1.5"/><circle cx="370" cy="334" r="1.5"/><circle cx="372" cy="271" r="1.5"/><circle cx="373" cy="295" r="1.5"/><circle cx="376" cy="220" r="1.5"/><circle cx="376" cy="255" r="1.5"/><circle cx="376" cy="257" r="1.5"/><circle cx="376" cy="288" r="1.5"/><circle cx="376" cy="299" r="1.5"/><circle cx="376" cy="311" r="1.5"/><circle cx="378" cy="294" r="1.5"/><circle cx="378" cy="311" r="1.5"/><circle cx="379" cy="305" r="1.5"/><circle cx="379" cy="376" r="1.5"/><circle cx="381" cy="319" r="1.5"/><circle cx="382" cy="283" r="1.5"/><circle cx="383" cy="251" r="1.5"/><circle cx="383" cy="274" r="1.5"/><circle cx="386" cy="336" r="1.5"/><circle cx="388" cy="188" r="1.5"/><circle cx="389" cy="296" r="1.5"/><circle cx="389" cy="314" r="1.5"/><circle cx="390" cy="286" r="1.5"/><circle cx="392" cy="332" r="1.5"/><circle cx="395" cy="258" r="1.5"/><circle cx="395" cy="295" r="1.5"/><circle cx="396" cy="270" r="1.5"/><circle cx="397" cy="304" r="1.5"/><circle cx="399" cy="309" r="1.5"/><circle cx="399" cy="340" r="1.5"/><circle cx="401" cy="198" r="1.5"/><circle cx="403" cy="277" r="1.5"/><circle cx="408" cy="211" r="1.5"/><circle cx="408" cy="270" r="1.5"/><circle cx="409" cy="213" r="1.5"/><circle cx="410" cy="307" r="1.5"/><circle cx="412" cy="274" r="1.5"/><circle cx="412" cy="282" r="1.5"/><circle cx="414" cy="269" r="1.5"/><circle cx="414" cy="311" r="1.5"/><circle cx="420" cy="292" r="1.5"/><circle cx="420" cy="300" r="1.5"/><circle cx="423" cy="328" r="1.5"/><circle cx="428" cy="266" r="1.5"/><circle cx="429" cy="299" r="1.5"/><circle cx="429" cy="311" r="1.5"/><circle cx="438" cy="163" r="1.5"/><circle cx="441" cy="304" r="1.5"/><circle cx="445" cy="391" r="1.5"/><circle cx="446" cy="276" r="1.5"/><circle cx="446" cy="284" r="1.5"/><circle cx="447" cy="206" r="1.5"/><circle cx="448" cy="221" r="1.5"/><circle cx="455" cy="305" r="1.5"/><circle cx="458" cy="314" r="1.5"/><circle cx="459" cy="232" r="1.5"/><circle cx="479" cy="233" r="1.5"/><circle cx="486" cy="185" r="1.5"/><circle cx="491" cy="282" r="1.5"/><circle cx="522" cy="298" r="1.5"/><circle cx="530" cy="287" r="1.5"/></g>
<g fill="none" stroke="#66ff88" stroke-width="1" shape-rendering="crispEdges"><path d="M209.0 332.5h5M211.5 330.0v5"/><path d="M229.0 371.5h5M231.5 369.0v5"/><path d="M244.0 336.5h5M246.5 334.0v5"/><path d="M255.0 326.5h5M257.5 324.0v5"/><path d="M258.0 438.5h5M260.5 436.0v5"/><path d="M304.0 453.5h5M306.5 451.0v5"/><path d="M308.0 418.5h5M310.5 416.0v5"/><path d="M313.0 429.5h5M315.5 427.0v5"/><path d="M320.0 429.5h5M322.5 427.0v5"/><path d="M331.0 332.5h5M333.5 330.0v5"/><path d="M334.0 392.5h5M336.5 390.0v5"/><path d="M338.0 405.5h5M340.5 403.0v5"/><path d="M340.0 438.5h5M342.5 436.0v5"/><path d="M350.0 351.5h5M352.5 349.0v5"/><path d="M357.0 358.5h5M359.5 356.0v5"/><path d="M361.0 339.5h5M363.5 337.0v5"/><path d="M364.0 332.5h5M366.5 330.0v5"/><path d="M364.0 351.5h5M366.5 349.0v5"/><path d="M364.0 358.5h5M366.5 356.0v5"/><path d="M367.0 341.5h5M369.5 339.0v5"/><path d="M368.0 348.5h5M370.5 346.0v5"/><path d="M374.0 345.5h5M376.5 343.0v5"/><path d="M376.0 302.5h5M378.5 300.0v5"/><path d="M376.0 452.5h5M378.5 450.0v5"/><path d="M379.0 437.5h5M381.5 435.0v5"/><path d="M381.0 246.5h5M383.5 244.0v5"/><path d="M384.0 360.5h5M386.5 358.0v5"/><path d="M385.0 363.5h5M387.5 361.0v5"/><path d="M391.0 398.5h5M393.5 396.0v5"/><path d="M416.0 190.5h5M418.5 188.0v5"/><path d="M422.0 375.5h5M424.5 373.0v5"/><path d="M479.0 434.5h5M481.5 432.0v5"/><path d="M482.0 311.5h5M484.5 309.0v5"/></g>
<g fill="none" stroke="#e4e4e4" stroke-width="1.1"><path d="M437.5 236 L438.8 225.5 L447.5 229.5"/><path d="M149.5 399.5 L150.8 389.5 L159.5 393.5"/><path d="M293.5 318 L295 308 L304 311.5"/></g>
<g class="mb" font-size="12" fill="#000" letter-spacing="-0.22">
<text x="281.6" y="57">North</text>
<text x="281.2" y="578" class="cb" letter-spacing="0">South</text>
<text x="16" y="318">West</text>
<text x="552.2" y="317.8" class="cb" letter-spacing="0">East</text>
</g>
<g class="mb" font-size="13" fill="#000" letter-spacing="0.173">
<text x="399.5" y="19">STATION NAME    YYYY DATE  DDD HHMMSS AXN PPS IGP</text>
<text x="399.5" y="36">Dourbes         2019 Jan26 026 000300 417 200 -8U</text>
</g>
<g class="m" font-size="12" fill="#000" letter-spacing="-0.225">
<text x="594.5" y="71">Num of Sources</text>
<text x="791" y="71" text-anchor="end">232</text>
<text x="594.5" y="85">Min Freq, kHz</text>
<text x="791" y="85" text-anchor="end">2050</text>
<text x="594.5" y="99">Max Freq, kHz</text>
<text x="791" y="99" text-anchor="end">2350</text>
<text x="594.5" y="113">Min Range, km</text>
<text x="791" y="113" text-anchor="end">300</text>
<text x="594.5" y="127">Max Range, km</text>
<text x="791" y="127" text-anchor="end">380</text>
<text x="594.5" y="141">Max Amp, dB</text>
<text x="791" y="141" text-anchor="end">57</text>
<text x="594.5" y="155">Max SNR Amp, dB</text>
<text x="791" y="155" text-anchor="end">27</text>
<text x="594.5" y="169">Min SNR Amp, dB</text>
<text x="791" y="169" text-anchor="end">12</text>
<text x="594.5" y="183">Avg SNR Amp, dB</text>
<text x="791" y="183" text-anchor="end">18</text>
<text x="594.5" y="197">Max RMS Err, deg</text>
<text x="791" y="197" text-anchor="end">12.0</text>
<text x="594.5" y="211">Min RMS Err, deg</text>
<text x="791" y="211" text-anchor="end">0.0</text>
<text x="594.5" y="225">Avg RMS Err, deg</text>
<text x="791" y="225" text-anchor="end">4.3</text>
<text x="594.5" y="239">Doppler Res, Hz</text>
<text x="791" y="239" text-anchor="end">0.0977</text>
<text x="594.5" y="253">CIT, sec</text>
<text x="791" y="253" text-anchor="end">10.24</text>
<text x="594.5" y="267">Num of CITs</text>
<text x="791" y="267" text-anchor="end">2</text>
<text x="594.5" y="281">Polarization</text>
<text x="791" y="281" text-anchor="end">O-mode</text>
<text x="594.5" y="295">Center of Sources, deg:</text>
<text x="594.5" y="309">          Zenith</text>
<text x="791" y="309" text-anchor="end">6.2</text>
<text x="594.5" y="323">          Azimuth</text>
<text x="791" y="323" text-anchor="end">282</text>
</g>
<text x="720" y="323" class="s" font-size="8" fill="#000">↶</text>
<rect x="593" y="341" width="15" height="242" fill="url(#cb)"/>
<rect x="608" y="341" width="1" height="242" fill="#000"/>
<g class="sb" font-size="11" fill="#000"><rect x="609" y="341" width="6" height="1"/><text x="617.6" y="344.6">6.3</text><rect x="609" y="345" width="6" height="1"/><rect x="609" y="365" width="6" height="1"/><text x="617.6" y="368.6">5.0</text><rect x="609" y="384" width="6" height="1"/><text x="617.6" y="387.6">4.0</text><rect x="609" y="403" width="6" height="1"/><text x="617.6" y="406.6">3.0</text><rect x="609" y="423" width="6" height="1"/><text x="617.6" y="426.6">2.0</text><rect x="609" y="442" width="6" height="1"/><text x="617.6" y="445.6">1.0</text><rect x="609" y="461" width="6" height="1"/><text x="617.6" y="464.6">0</text><rect x="609" y="481" width="6" height="1"/><text x="617.6" y="484.6">-1.0</text><rect x="609" y="500" width="6" height="1"/><text x="617.6" y="503.6">-2.0</text><rect x="609" y="520" width="6" height="1"/><text x="617.6" y="523.6">-3.0</text><rect x="609" y="539" width="6" height="1"/><text x="617.6" y="542.6">-4.0</text><rect x="609" y="558" width="6" height="1"/><text x="617.6" y="561.6">-5.0</text><rect x="609" y="578" width="6" height="1"/><rect x="609" y="582" width="6" height="1"/><text x="617.6" y="585.6">-6.3</text></g>
<text class="sb" font-size="9" fill="#000" transform="translate(657,492.2) rotate(-90)" letter-spacing="-0.37">Doppler, Hz</text>
<text class="sb" font-size="10" fill="#0000f0" x="667.9" y="406.4"><tspan class="s" font-weight="normal" font-size="12">+</tspan><tspan x="682.2">Positive</tspan></text>
<text class="sb" font-size="10" fill="#f00000" x="669.5" y="526"><tspan class="s" font-weight="normal" font-size="11">o</tspan><tspan x="682.2">Negative</tspan></text>
<text class="s" font-size="9.4" fill="#000" x="654.3" y="592.6">ShowSkymap v 1.0   SD v 5.1</text>
<g class="mi" font-size="12" fill="#000" letter-spacing="-0.225">
<text x="12" y="572">V<tspan dy="3.6" font-style="normal" font-size="10.5">h</tspan><tspan dy="-3.6" font-style="normal"> = </tspan>24<tspan font-style="normal"> ± </tspan>12<tspan font-style="normal"> m/s</tspan></text>
<text x="12" y="593">Geographic coordinates</text>
<text x="474" y="572">V<tspan dy="3.6" font-style="normal" font-size="10.5">z</tspan><tspan dy="-3.6" font-style="normal"> = </tspan>13<tspan font-style="normal"> ± </tspan>1<tspan font-style="normal"> m/s</tspan></text>
<text x="419" y="593">Zenith: max 40<tspan dx="-0.8">°</tspan></text>
<text x="534" y="593">step 5<tspan dx="-1.5">°</tspan></text>
</g>
</svg>
</body></html>
